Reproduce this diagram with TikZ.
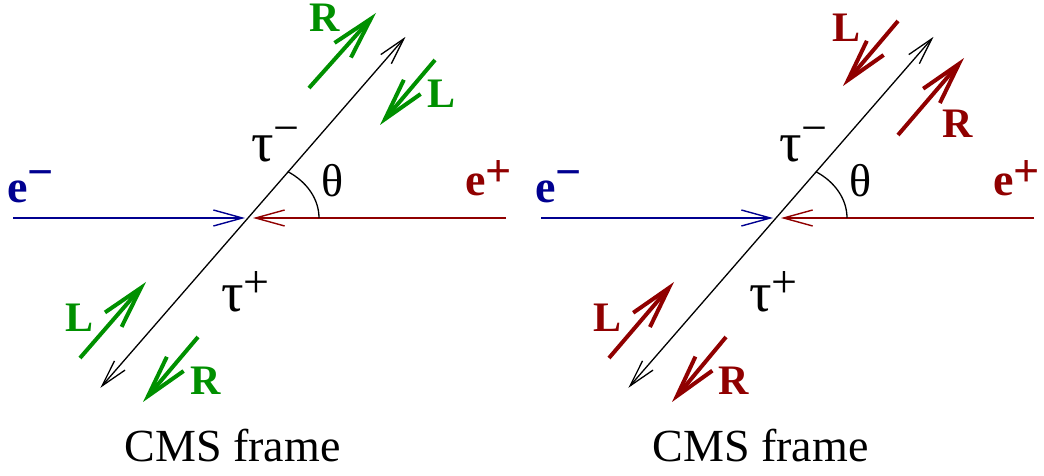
\documentclass[tikz,border=0pt]{standalone}
\usepackage{fontspec}
\setmainfont{Liberation Serif}
\usetikzlibrary{arrows.meta}
\definecolor{egreen}{RGB}{0,144,0}
\definecolor{eblue}{RGB}{0,0,144}
\definecolor{ered}{RGB}{144,0,0}
\newcommand{\bigtau}{{\fontsize{56}{60}\selectfont τ}}
\tikzset{
  beam/.style={line width=1.4pt,-{Straight Barb[length=29pt,width=16pt]}},
  tau/.style={line width=1.3pt,{Straight Barb[length=27pt,width=14pt]}-{Straight Barb[length=27pt,width=14pt]}},
  spin/.style={line width=4pt,-{Straight Barb[length=42pt,width=22pt]}},
  lbl/.style={inner sep=0pt,font=\fontsize{46}{50}\selectfont},
  spinlbl/.style={inner sep=0pt,anchor=base,font=\fontsize{42}{46}\selectfont\bfseries},
}
\begin{document}
\begin{tikzpicture}[x=1pt,y=1pt]
\useasboundingbox (0,0) rectangle (1044,476);
% the two frames share beams, tau line and angle
\foreach \dx/\p in {0/l,528/r} {
\begin{scope}[xshift=\dx]
  \coordinate (\p O) at (248,258);
  \coordinate (\p eIn) at (13,258);
  \coordinate (\p eTip) at (245,258);
  \coordinate (\p pIn) at (506,258);
  \coordinate (\p pTip) at (253,258);
  \path (\p O) +(49:240) coordinate (\p tauTop) +(229:225) coordinate (\p tauBot);
  \draw[beam,eblue] (\p eIn) -- (\p eTip);
  \draw[beam,ered] (\p pIn) -- (\p pTip);
  \draw[tau] (\p tauBot) -- (\p tauTop);
  \draw[line width=1.3pt] (\p O) ++(71,0) arc[start angle=0,end angle=56,x radius=71,y radius=56];
  \node[lbl] (\p theta) at (333,295) {θ};
  \node[lbl,anchor=base west] (\p tauM) at (251,314) {\bigtau\raisebox{18pt}{−}};
  \node[lbl,anchor=base west] (\p tauP) at (221,164) {\bigtau\raisebox{14pt}{+}};
  \node[lbl,anchor=base west,text=eblue,font=\fontsize{46}{50}\selectfont\bfseries] (\p em) at (7,273) {e\raisebox{15pt}{−}};
  \node[lbl,anchor=base west,text=ered,font=\fontsize{46}{50}\selectfont\bfseries] (\p ep) at (465,280) {e\raisebox{9pt}{+}};
  \node[lbl,anchor=base] (\p cms) at (232.5,14) {CMS frame};
\end{scope}
}
% helicity arrows
\foreach \n/\col/\sx/\sy/\tx/\ty/\lab/\lx/\ly in {
  la/egreen/309/388/376/463/R/325/444,
  lb/egreen/435/416/380/351/L/441.5/368,
  lc/egreen/80/118/146/194/L/79.5/144,
  ld/egreen/198/139/143/74/R/206/81,
  ra/ered/898/455/843/390/L/846/434,
  rb/ered/898/341/964/418/R/958/338,
  rc/ered/609/118/674/194/L/607.5/144,
  rd/ered/726/139/672/74/R/734/81} {
  \coordinate (\n s) at (\sx,\sy);
  \coordinate (\n t) at (\tx,\ty);
  \draw[spin,\col] (\n s) -- (\n t);
  \node[spinlbl,text=\col] (\n l) at (\lx,\ly) {\lab};
}
\end{tikzpicture}
\end{document}
